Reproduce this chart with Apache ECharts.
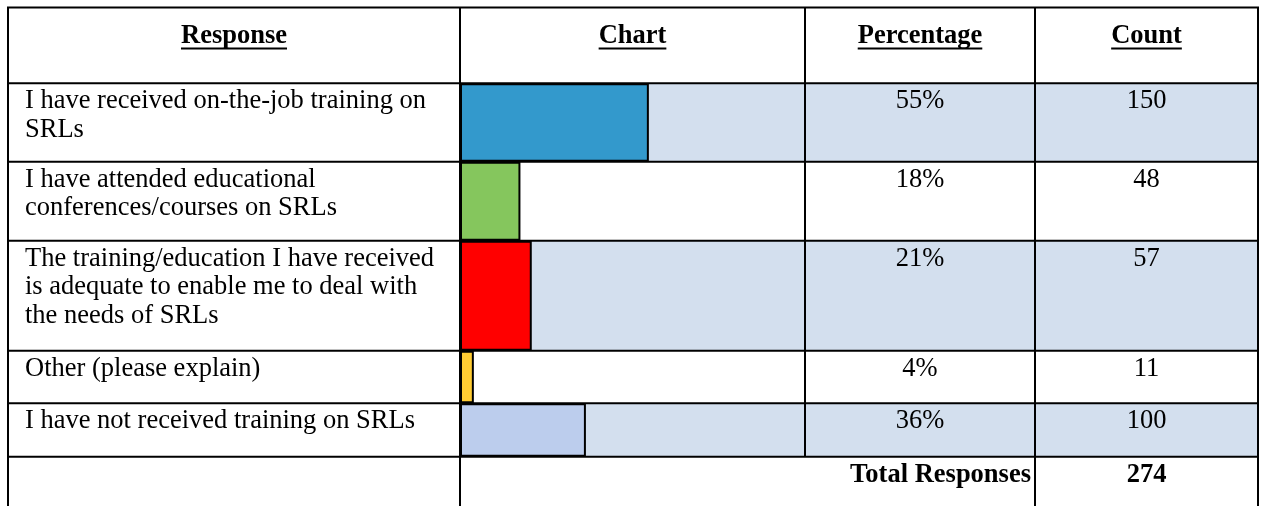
<!DOCTYPE html>
<html><head><meta charset="utf-8">
<script src="https://cdn.jsdelivr.net/npm/echarts@6/dist/echarts.min.js"></script>
<style>html,body{margin:0;padding:0;background:#fff}#c{width:1261px;height:506px}</style>
</head><body><div id="c"></div>
<script>
// ---- data ----
const headers = ['Response', 'Chart', 'Percentage', 'Count'];
const responses = [
  'I have received on-the-job training on\nSRLs',
  'I have attended educational\nconferences/courses on SRLs',
  'The training/education I have received\nis adequate to enable me to deal with\nthe needs of SRLs',
  'Other (please explain)',
  'I have not received training on SRLs'
];
const percentages = ['55%', '18%', '21%', '4%', '36%'];
const counts = [150, 48, 57, 11, 100];
const totalLabel = 'Total Responses';
const totalCount = 274;

// ---- styles / layout ----
const barColors = ['#3399CC', '#85C65D', '#FF0000', '#FFCC33', '#BCCDED'];
const shade = '#D3DFEE';
const FONT = "'Liberation Serif', 'Times New Roman', serif";
const FS = 26.5, LH = 28.8;
const colX = [8, 460, 805, 1035, 1258];
const rowY = [7.5, 83.3, 161.7, 240.7, 350.7, 403.3, 456.7, 506];
const LW = 2;

const chart = echarts.init(document.getElementById('c'), null, {renderer: 'canvas'});

const ctx = document.createElement('canvas').getContext('2d');
function textW(t, bold) { ctx.font = (bold ? 'bold ' : '') + FS + 'px ' + FONT; return ctx.measureText(t).width; }

const graphic = [];
// row shading for rows 1,3,5 (chart, percentage, count columns)
for (let i = 0; i < responses.length; i += 2) {
  graphic.push({type: 'rect', z: -10, silent: true,
    shape: {x: colX[1], y: rowY[i + 1], width: colX[4] - colX[1], height: rowY[i + 2] - rowY[i + 1]},
    style: {fill: shade}});
}
// headers
const headerCenters = [(colX[0] + colX[1]) / 2, (colX[1] + colX[2]) / 2, (colX[2] + colX[3]) / 2, (colX[3] + colX[4]) / 2];
headers.forEach((h, j) => {
  graphic.push({type: 'text', z: 50, x: headerCenters[j], y: 22.5,
    style: {text: h, font: 'bold ' + FS + 'px ' + FONT, fill: '#000', align: 'center', verticalAlign: 'top'}});
  const w = textW(h, true);
  graphic.push({type: 'line', z: 50, shape: {x1: headerCenters[j] - w / 2, y1: 48.5, x2: headerCenters[j] + w / 2, y2: 48.5},
    style: {stroke: '#000', lineWidth: 2}});
});
// body text
responses.forEach((r, i) => {
  const top = rowY[i + 1] + 3.5;
  graphic.push({type: 'text', z: 50, x: 25, y: top,
    style: {text: r, font: FS + 'px ' + FONT, lineHeight: LH, fill: '#000', align: 'left', verticalAlign: 'top'}});
  graphic.push({type: 'text', z: 50, x: headerCenters[2], y: top,
    style: {text: percentages[i], font: FS + 'px ' + FONT, lineHeight: LH, fill: '#000', align: 'center', verticalAlign: 'top'}});
  graphic.push({type: 'text', z: 50, x: headerCenters[3], y: top,
    style: {text: String(counts[i]), font: FS + 'px ' + FONT, lineHeight: LH, fill: '#000', align: 'center', verticalAlign: 'top'}});
});
// total row
const tTop = rowY[6] + 4;
graphic.push({type: 'text', z: 50, x: colX[3] - 4, y: tTop,
  style: {text: totalLabel, font: 'bold ' + FS + 'px ' + FONT, lineHeight: LH, fill: '#000', align: 'right', verticalAlign: 'top'}});
graphic.push({type: 'text', z: 50, x: headerCenters[3], y: tTop,
  style: {text: String(totalCount), font: 'bold ' + FS + 'px ' + FONT, lineHeight: LH, fill: '#000', align: 'center', verticalAlign: 'top'}});
// horizontal lines
for (let k = 0; k < rowY.length - 1; k++) {
  graphic.push({type: 'line', z: 40, shape: {x1: colX[0] - 1, y1: rowY[k], x2: colX[4] + 1, y2: rowY[k]}, style: {stroke: '#000', lineWidth: LW}});
}
// vertical lines
colX.forEach((x, j) => {
  const yEnd = (j === 2) ? rowY[6] : 506;
  graphic.push({type: 'line', z: 40, shape: {x1: x, y1: rowY[0], x2: x, y2: yEnd}, style: {stroke: '#000', lineWidth: LW}});
});

// one grid per row in the chart column
const grids = [], xAxes = [], yAxes = [], series = [];
responses.forEach((r, i) => {
  grids.push({left: colX[1], width: colX[2] - colX[1], top: rowY[i + 1], height: rowY[i + 2] - rowY[i + 1], containLabel: false});
  xAxes.push({type: 'value', gridIndex: i, min: 0, max: totalCount, show: false});
  yAxes.push({type: 'category', gridIndex: i, data: [r], show: false});
  series.push({type: 'bar', xAxisIndex: i, yAxisIndex: i, data: [counts[i]], barWidth: '100%', z: 5,
    itemStyle: {color: barColors[i], borderColor: '#000', borderWidth: LW}, silent: true});
});

chart.setOption({
  animation: false,
  grid: grids, xAxis: xAxes, yAxis: yAxes, series: series,
  graphic: {elements: graphic}
});
</script>
</body></html>
